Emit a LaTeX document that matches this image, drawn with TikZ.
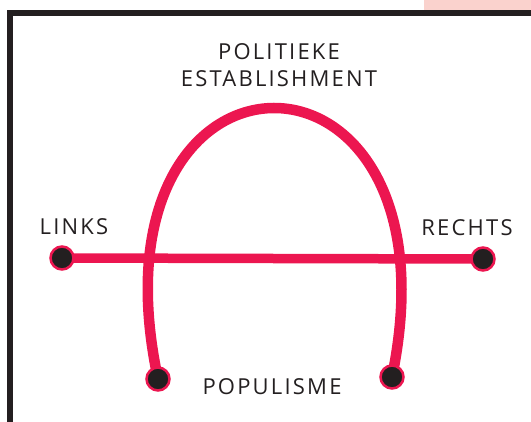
\documentclass[tikz,border=0pt]{standalone}
\usepackage{fontspec}
\setmainfont{Open Sans}
\newfontfamily\spacedsans[LetterSpace=10]{Open Sans}
\usetikzlibrary{positioning,backgrounds}
\definecolor{archred}{RGB}{236,22,80}
\definecolor{inkdark}{RGB}{35,31,32}
\definecolor{blush}{RGB}{250,210,205}
\tikzset{every picture/.style={line width=0.75pt}}

\begin{document}
\begin{tikzpicture}[x=1pt,y=-1pt,
    pole/.style={circle,fill=inkdark,draw=archred,line width=2.5pt,minimum size=23pt,inner sep=0pt},
    caption/.style={font=\spacedsans\fontsize{22}{27}\selectfont,text=inkdark,inner sep=0pt,align=center},
    spectrum/.style={draw=archred,line width=9.5pt},
    horseshoe/.style={draw=archred,line width=10.5pt,line cap=round}]
    \useasboundingbox (0,0) rectangle (531,422);
    \fill[blush] (424,0) rectangle (531,10);
    \draw[inkdark,line width=6pt] (10,422) -- (10,13) -- (531,13);

    \node[pole] (links) at (62,258) {};
    \node[pole] (rechts) at (483,259) {};
    \node[pole] (leftfoot) at (158,379) {};
    \node[pole] (rightfoot) at (392,377) {};

    \node[caption, above=10pt of links, xshift=12pt] (linkslabel) {LINKS};
    \node[caption, above=10pt of rechts, xshift=-16pt] (rechtslabel) {RECHTS};
    \node[caption, anchor=base] (populisme) at (272,395) {POPULISME};
    \node[caption] (establishment) at (279,65) {POLITIEKE\\ESTABLISHMENT};

    \begin{pgfonlayer}{background}
        \draw[spectrum] (links.center) -- (rechts.center);
        \draw[horseshoe] (leftfoot.center) .. controls (81,18) and (466,18) .. (rightfoot.center);
    \end{pgfonlayer}
\end{tikzpicture}
\end{document}
